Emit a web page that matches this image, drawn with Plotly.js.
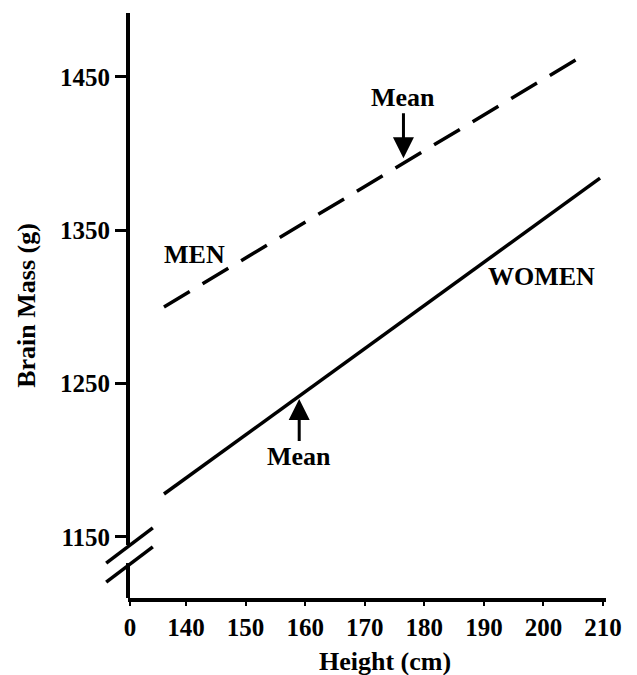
<!DOCTYPE html>
<html>
<head>
<meta charset="utf-8">
<script src="https://cdn.plot.ly/plotly-3.0.1.min.js"></script>
<style>html,body{margin:0;padding:0;background:#fff;}#chart{width:637px;height:675px;}</style>
</head>
<body>
<div id="chart"></div>
<script>
// ---- data ----
var menHeight = [136.3, 207.5];
var menBrain = [1300, 1466];
var womenHeight = [136.3, 209.5];
var womenBrain = [1178, 1384];
var menMean = {x: 176.5, y: 1397};
var womenMean = {x: 159, y: 1240};
var xTickVals = [130.6, 140, 150, 160, 170, 180, 190, 200, 210];
var xTickText = ['0', '140', '150', '160', '170', '180', '190', '200', '210'];
var yTickVals = [1150, 1250, 1350, 1450];
var yTickText = ['1150', '1250', '1350', '1450'];

var FONT = 'Liberation Serif, Times New Roman, serif';
var yMin = 1110.2, yMax = 1491.7;
var TXT = {family: FONT, size: 26, color: '#000', weight: 'bold'};

var traces = [
  {x: menHeight, y: menBrain, mode: 'lines', name: 'MEN',
   line: {color: '#000', width: 3.5, dash: '30px,15px'}, hoverinfo: 'skip'},
  {x: womenHeight, y: womenBrain, mode: 'lines', name: 'WOMEN',
   line: {color: '#000', width: 3.5}, hoverinfo: 'skip'}
];

var layout = {
  width: 637, height: 675,
  margin: {l: 128, r: 31, t: 13, b: 77},
  paper_bgcolor: '#fff', plot_bgcolor: '#fff',
  showlegend: false,
  font: TXT,
  xaxis: {
    range: [130.26, 210.5], showgrid: false, zeroline: false,
    showline: true, linecolor: '#000', linewidth: 3.5,
    ticks: 'outside', ticklen: 4, tickwidth: 2, tickcolor: '#000',
    tickvals: xTickVals, ticktext: xTickText,
    tickfont: {family: FONT, size: 25, color: '#000'}
  },
  yaxis: {
    range: [yMin, yMax], showgrid: false, zeroline: false,
    showline: false,
    ticks: 'outside', ticklen: 12, tickwidth: 3, tickcolor: '#000',
    tickvals: yTickVals, ticktext: yTickText,
    tickfont: {family: FONT, size: 25, color: '#000'},
    title: {text: 'Brain Mass (g)', font: TXT, standoff: 16}
  },
  shapes: [
    // y axis line with a break
    {type: 'line', xref: 'paper', yref: 'y', x0: 0, x1: 0, y0: 1144.8, y1: yMax, line: {color: '#000', width: 4}},
    {type: 'line', xref: 'paper', yref: 'y', x0: 0, x1: 0, y0: yMin, y1: 1133.0, line: {color: '#000', width: 4}},
    // break marks
    {type: 'line', xref: 'paper', yref: 'y', x0: -0.0456, x1: 0.0519, y0: 1133.0, y1: 1155.9, line: {color: '#000', width: 3.5}},
    {type: 'line', xref: 'paper', yref: 'y', x0: -0.0456, x1: 0.0519, y0: 1120.6, y1: 1143.5, line: {color: '#000', width: 3.5}}
  ],
  annotations: [
    {x: menMean.x, y: menMean.y, xref: 'x', yref: 'y', text: 'Mean', showarrow: true,
     ax: 0, ay: -61, arrowhead: 2, arrowsize: 1.4, arrowwidth: 3, arrowcolor: '#000', font: TXT},
    {x: womenMean.x, y: womenMean.y, xref: 'x', yref: 'y', text: 'Mean', showarrow: true,
     ax: 0, ay: 58, arrowhead: 2, arrowsize: 1.4, arrowwidth: 3, arrowcolor: '#000', font: TXT},
    {x: 141.5, y: 1334, xref: 'x', yref: 'y', text: 'MEN', showarrow: false, font: TXT},
    {x: 199.7, y: 1320, xref: 'x', yref: 'y', text: 'WOMEN', showarrow: false, font: TXT},
    {x: 0.537, y: -0.109, xref: 'paper', yref: 'paper', text: 'Height (cm)', showarrow: false,
     xanchor: 'center', yanchor: 'middle', font: TXT}
  ]
};

Plotly.newPlot('chart', traces, layout, {staticPlot: true, displayModeBar: false});
</script>
</body>
</html>
